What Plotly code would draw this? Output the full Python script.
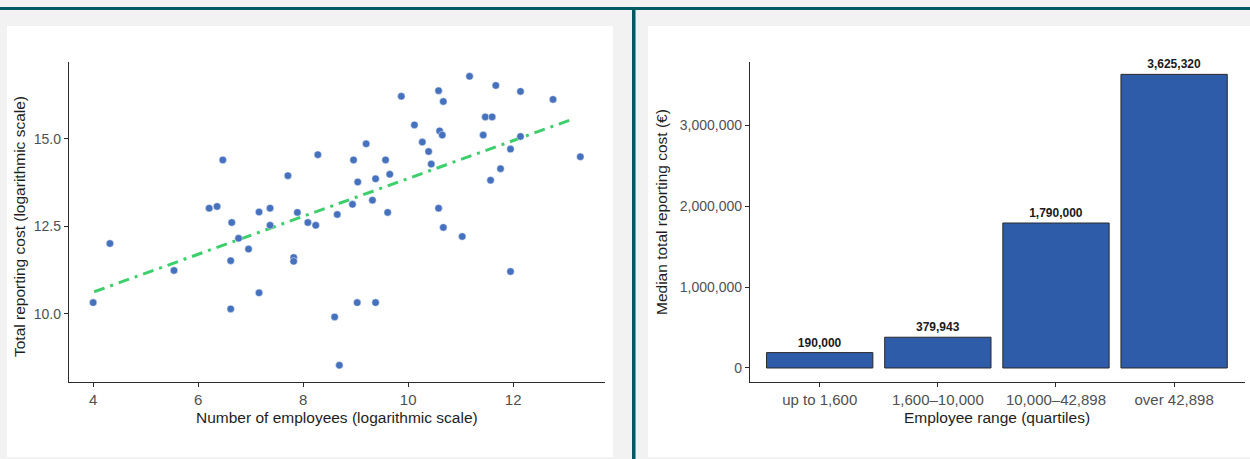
import plotly.graph_objects as go

# Scatter: log employees vs log total reporting cost
log_employees = [4.00, 4.32, 5.54, 6.21, 6.36, 6.47, 6.64, 6.62, 6.62, 6.77,
                 6.96, 7.16, 7.16, 7.37, 7.37, 7.71, 7.82, 7.82, 7.89, 8.09,
                 8.24, 8.28, 8.60, 8.65, 8.69, 8.94, 8.96, 9.04, 9.03, 9.20,
                 9.32, 9.38, 9.38, 9.57, 9.61, 9.65, 9.87, 10.12, 10.27, 10.39,
                 10.44, 10.58, 10.58, 10.60, 10.65, 10.67, 10.67, 11.03, 11.17, 11.43,
                 11.47, 11.60, 11.57, 11.67, 11.76, 11.95, 11.95, 12.14, 12.14, 12.76,
                 13.28]
log_cost = [10.32, 12.01, 11.24, 13.02, 13.07, 14.40, 12.61, 11.52, 10.14, 12.16,
            11.85, 12.91, 10.60, 13.02, 12.53, 13.95, 11.61, 11.50, 12.90, 12.61,
            12.53, 14.55, 9.91, 12.84, 8.53, 13.13, 14.40, 13.77, 10.32, 14.86,
            13.25, 10.32, 13.86, 14.40, 12.90, 13.99, 16.22, 15.40, 14.91, 14.64,
            14.28, 16.38, 13.02, 15.23, 15.11, 16.07, 12.47, 12.21, 16.79, 15.11,
            15.63, 15.63, 13.82, 16.53, 14.15, 14.71, 11.21, 16.36, 15.07, 16.13,
            14.49]

# Fitted regression line endpoints
trend_x = [4.02, 13.14]
trend_y = [10.63, 15.57]

# Bars: median total reporting cost by employee quartile
quartiles = ["up to 1,600", "1,600\u201310,000", "10,000\u201342,898", "over 42,898"]
median_cost = [190000, 379943, 1790000, 3625320]

W, H = 1250, 459
FONT = "Liberation Sans, Arial, sans-serif"
TICK_COLOR = "#505050"
TITLE_COLOR = "#1e1e1e"
TEAL = "#005a63"


def px_x(p):
    return p / W


def px_y(p):
    return 1 - p / H


fig = go.Figure()

fig.add_trace(go.Scatter(
    x=trend_x, y=trend_y, mode="lines",
    line=dict(color="#3ccf6c", width=3, dash="11px,6px,3px,6px"),
    xaxis="x", yaxis="y", hoverinfo="skip", showlegend=False,
))
fig.add_trace(go.Scatter(
    x=log_employees, y=log_cost, mode="markers",
    marker=dict(color="#4571bd", size=7.5, line=dict(color="rgba(255,255,255,0.6)", width=0.8)),
    xaxis="x", yaxis="y", showlegend=False,
))

fig.add_trace(go.Bar(
    x=quartiles, y=median_cost, width=0.9,
    marker=dict(color="#2e5ca8", line=dict(color="#2a2a2a", width=1)),
    text=[f"{v:,}" for v in median_cost], textposition="outside",
    textfont=dict(family=FONT, size=12, color="#1a1a1a", weight="bold"),
    cliponaxis=False,
    xaxis="x2", yaxis="y2", showlegend=False,
))

line_style = dict(
    showline=True, linecolor="#2b2b2b", linewidth=1.3,
    ticks="outside", ticklen=4, tickcolor="#2b2b2b", tickwidth=1.1,
    showgrid=False, zeroline=False,
)
xtick_font = dict(family=FONT, size=15, color=TICK_COLOR)
ytick_font = dict(family=FONT, size=14, color=TICK_COLOR)

shapes = [
    # panel backgrounds
    dict(type="rect", xref="paper", yref="paper", x0=px_x(7), x1=px_x(613),
         y0=px_y(457), y1=px_y(26), fillcolor="white", line=dict(width=0), layer="below"),
    dict(type="rect", xref="paper", yref="paper", x0=px_x(648), x1=px_x(1250),
         y0=px_y(457), y1=px_y(26), fillcolor="white", line=dict(width=0), layer="below"),
    # teal frame lines
    dict(type="rect", xref="paper", yref="paper", x0=0, x1=1,
         y0=px_y(10), y1=px_y(7), fillcolor=TEAL, line=dict(width=0), layer="below"),
    dict(type="rect", xref="paper", yref="paper", x0=px_x(632), x1=px_x(635.5),
         y0=0, y1=px_y(7), fillcolor=TEAL, line=dict(width=0), layer="below"),
]

title_font = dict(family=FONT, size=15.5, color=TITLE_COLOR)
annotations = [
    dict(text="Number of employees (logarithmic scale)", x=px_x(337), y=px_y(417),
         xref="paper", yref="paper", showarrow=False, xanchor="center", yanchor="middle",
         font=title_font),
    dict(text="Total reporting cost (logarithmic scale)", x=px_x(19), y=px_y(227),
         xref="paper", yref="paper", showarrow=False, xanchor="center", yanchor="middle",
         textangle=-90, font=title_font),
    dict(text="Employee range (quartiles)", x=px_x(997), y=px_y(417),
         xref="paper", yref="paper", showarrow=False, xanchor="center", yanchor="middle",
         font=title_font),
    dict(text="Median total reporting cost (\u20ac)", x=px_x(661), y=px_y(212),
         xref="paper", yref="paper", showarrow=False, xanchor="center", yanchor="middle",
         textangle=-90, font=title_font),
]

fig.update_layout(
    width=W, height=H,
    margin=dict(l=0, r=0, t=0, b=0),
    paper_bgcolor="#f2f2f2", plot_bgcolor="rgba(0,0,0,0)",
    font=dict(family=FONT),
    shapes=shapes, annotations=annotations,
    bargap=0.1,
    xaxis=dict(domain=[px_x(69), px_x(605)], anchor="y", range=[3.54, 13.75],
               tickvals=[4, 6, 8, 10, 12], tickfont=xtick_font, **line_style),
    yaxis=dict(domain=[px_y(382), px_y(62)], anchor="x", range=[8.05, 17.2],
               tickvals=[10, 12.5, 15], tickformat=".1f", tickfont=ytick_font, **line_style),
    xaxis2=dict(domain=[px_x(750), px_x(1245)], anchor="y2", range=[-0.59, 3.6],
                type="category", tickfont=xtick_font, **line_style),
    yaxis2=dict(domain=[px_y(382), px_y(62)], anchor="x2", range=[-173000, 3778000],
                tickvals=[0, 1000000, 2000000, 3000000], tickformat=",d",
                tickfont=ytick_font, **line_style),
)

fig.write_html("out.html")
